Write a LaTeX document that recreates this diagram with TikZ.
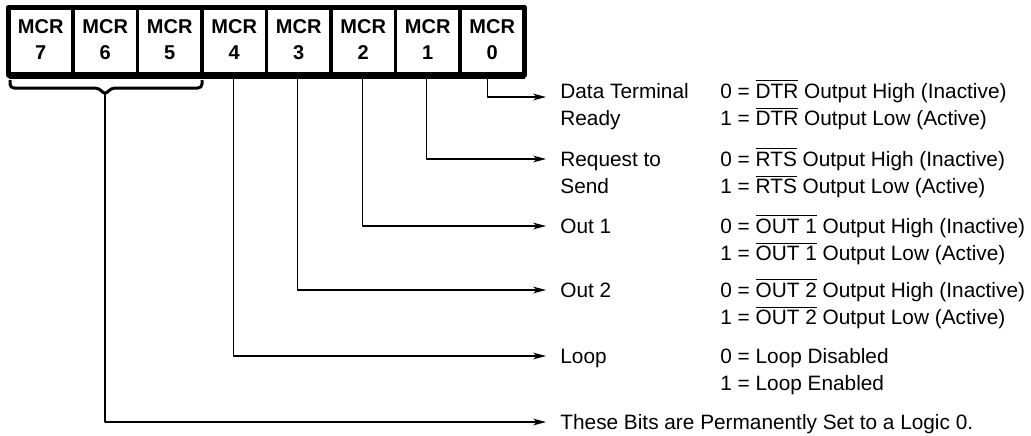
\documentclass[tikz,border=0pt]{standalone}
\usepackage{fontspec}
\setmainfont{Liberation Sans}
\usetikzlibrary{arrows.meta}
\newcommand{\ovl}[1]{$\overline{\mbox{#1}}$}

\begin{document}
\begin{tikzpicture}[x=0.5pt,y=-0.5pt,line join=round,>={Stealth[length=6.5pt,width=3.4pt,inset=2pt]}]
	\tikzset{every node/.style={font=\fontsize{10.4}{13.75}\selectfont},
		cell/.style={draw,line width=1.75pt,inner sep=0pt,outer sep=0pt,minimum width=32.25pt,minimum height=33.75pt},
		celltext/.style={font=\fontsize{10}{13}\selectfont\bfseries,align=center,inner sep=0pt},
		lbl/.style={anchor=base west,align=left,inner sep=0pt},
		wire/.style={line width=0.6pt,->}}
	\useasboundingbox (0,0) rectangle (1031,435);
	% register
	\foreach \k in {0,...,7}{
		\node[cell] (mcr\k) at ({40.75+64.5*(7-\k)},41.25) {};
		\node[celltext] at ({40.75+64.5*(7-\k)},39.5) {MCR\\\k};
	}
	\draw[line width=2.6pt] (mcr7.north west) rectangle (mcr0.south east);
	\draw[line width=3.4pt] ([yshift=-0.4pt]mcr7.south west) -- ([yshift=-0.4pt]mcr0.south east);
	% bracket under MCR7..MCR5
	\draw[line width=1.5pt,rounded corners=2pt] (10,80) -- (10,88) -- (99,88) -- (105,95) -- (111,88) -- (202,88) -- (202,80);
	\coordinate (brk) at (105,94);
	% labels (base = last line)
	\node[lbl] (dtr) at (560,125.5) {Data Terminal\\Ready};
	\node[lbl] (dtrval) at (720,125.5) {0 = \ovl{DTR} Output High (Inactive)\\1 = \ovl{DTR} Output Low (Active)};
	\node[lbl] (rts) at (560,193.5) {Request to\\Send};
	\node[lbl] (rtsval) at (720,193.5) {0 = \ovl{RTS} Output High (Inactive)\\1 = \ovl{RTS} Output Low (Active)};
	\node[lbl] (outa) at (560,233) {Out 1};
	\node[lbl] (outaval) at (720,260.5) {0 = \ovl{OUT 1} Output High (Inactive)\\1 = \ovl{OUT 1} Output Low (Active)};
	\node[lbl] (outb) at (560,297) {Out 2};
	\node[lbl] (outbval) at (720,324.5) {0 = \ovl{OUT 2} Output High (Inactive)\\1 = \ovl{OUT 2} Output Low (Active)};
	\node[lbl] (loop) at (560,363) {Loop};
	\node[lbl] (loopval) at (720,390.5) {0 = Loop Disabled\\1 = Loop Enabled};
	\node[lbl] (zero) at (560,429) {These Bits are Permanently Set to a Logic 0.};
	% connectors
	\draw[wire] ([xshift=-2.5pt]mcr0.south) |- ([xshift=-7pt,yshift=14.25pt]dtr.base west);
	\draw[wire] ([xshift=-0.5pt]mcr1.south) |- ([xshift=-7pt,yshift=17.25pt]rts.base west);
	\draw[wire] ([xshift=-0.5pt]mcr2.south) |- ([xshift=-7pt,yshift=3.5pt]outa.base west);
	\draw[wire] ([xshift=-0.5pt]mcr3.south) |- ([xshift=-7pt,yshift=3.5pt]outb.base west);
	\draw[wire] ([xshift=-0.5pt]mcr4.south) |- ([xshift=-7pt,yshift=3.5pt]loop.base west);
	\draw[wire] (brk) |- ([xshift=-7pt,yshift=3.5pt]zero.base west);
\end{tikzpicture}
\end{document}
